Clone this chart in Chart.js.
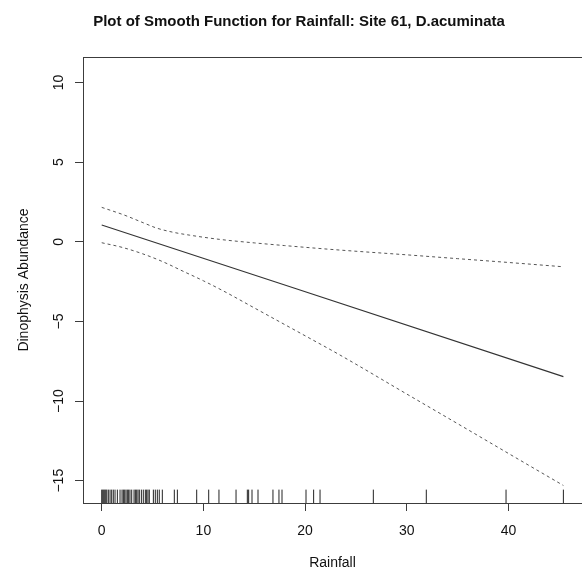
<!DOCTYPE html>
<html>
<head>
<meta charset="utf-8">
<script src="https://cdn.jsdelivr.net/npm/chart.js@4"></script>
<style>
  body { margin: 0; background: #fff; }
  #wrap { width: 582px; height: 575px; }
</style>
</head>
<body>
<div id="wrap"><canvas id="smooth" width="582" height="575"></canvas></div>
<script>
// smooth fit and its confidence band
const fitX = [0, 18.9, 45.4];
const fitY = [1.05, -2.9, -8.47];

const upperX = [0, 2.2, 4.1, 5.4, 7, 8.6, 11.6, 15, 18, 21, 23.4, 30, 35, 40, 45.4];
const upperY = [2.16, 1.68, 1.19, 0.86, 0.6, 0.42, 0.15, -0.07, -0.24, -0.4, -0.52, -0.82, -1.06, -1.3, -1.57];

const lowerX = [0, 2, 4, 6, 8, 10, 12, 15, 17, 20, 23.4, 30, 35, 40, 45.4];
const lowerY = [-0.06, -0.35, -0.75, -1.25, -1.85, -2.45, -3.1, -4.15, -4.85, -5.9, -7.1, -9.56, -11.42, -13.29, -15.3];

// rainfall observations for the rug
const rugX = [0, 0.1, 0.2, 0.3, 0.4, 0.5, 0.65, 0.82, 0.98, 1.14, 1.31, 1.54, 1.8, 2.0, 2.13,
  2.26, 2.39, 2.52, 2.65, 2.78, 2.95, 3.18, 3.31, 3.44, 3.57, 3.7, 3.9, 4.09, 4.29, 4.42,
  4.55, 4.68, 5.08, 5.27, 5.47, 5.66, 5.96, 7.14, 7.44, 9.34, 10.52, 11.53, 13.21, 14.32,
  14.45, 14.78, 15.37, 16.84, 17.43, 17.73, 20.09, 20.84, 21.47, 26.71, 31.92, 39.76, 45.4];

const xTicks = [0, 10, 20, 30, 40];
const yTicks = [-15, -10, -5, 0, 5, 10];
const X_MIN = -1.84, X_MAX = 47.23;
const Y_MIN = -16.4, Y_MAX = 11.6;

const pts = (xs, ys) => xs.map((x, i) => ({x: x, y: ys[i]}));
const minus = v => String(v).replace('-', '\u2212');
const ink = '#3c3c3c';
const font = {family: 'Arial, "Liberation Sans", sans-serif', size: 14};

const ctx = document.getElementById('smooth').getContext('2d');
new Chart(ctx, {
    type: 'line',
    data: {
        datasets: [
            {data: pts(fitX, fitY), borderColor: '#333', borderWidth: 1.2, pointRadius: 0},
            {data: pts(upperX, upperY), borderColor: '#555', borderWidth: 1, borderDash: [3, 3],
             pointRadius: 0, cubicInterpolationMode: 'monotone'},
            {data: pts(lowerX, lowerY), borderColor: '#555', borderWidth: 1, borderDash: [3, 3],
             pointRadius: 0, cubicInterpolationMode: 'monotone'},
            {   // rug: short vertical ticks sitting on the bottom of the plot
                data: rugX.map(x => ({x: x, y: Y_MIN + 0.015 * (Y_MAX - Y_MIN)})),
                showLine: false,
                pointStyle: 'line',
                rotation: 90,
                radius: c => c.chart.chartArea ? c.chart.chartArea.height * 0.015 : 6.5,
                borderColor: '#222',
                borderWidth: 1,
                hoverRadius: 0
            }
        ]
    },
    options: {
        responsive: false,
        animation: false,
        events: [],
        layout: {autoPadding: false, padding: {left: 16, top: 0, right: 0, bottom: 0}},
        plugins: {
            legend: {display: false},
            tooltip: {enabled: false},
            title: {
                display: true,
                text: 'Plot of Smooth Function for Rainfall: Site 61, D.acuminata',
                color: '#111',
                font: {family: font.family, size: 15, weight: 'bold'},
                padding: {top: 12.5, bottom: 26.5}
            }
        },
        scales: {
            x: {
                type: 'linear',
                min: X_MIN,
                max: X_MAX,
                afterBuildTicks: s => { s.ticks = xTicks.map(v => ({value: v})); },
                afterFit: s => { s.height = 72; },
                ticks: {color: '#111', font: font, padding: 12, callback: minus},
                grid: {drawOnChartArea: false, drawTicks: true, tickLength: 8, color: ink},
                border: {display: true, color: ink},
                title: {display: true, text: 'Rainfall', color: '#111', font: font,
                        padding: {top: 0, bottom: 3}}
            },
            xTop: {
                type: 'linear',
                position: 'top',
                min: X_MIN,
                max: X_MAX,
                afterFit: s => { s.height = 0; },
                ticks: {display: false},
                grid: {display: false, drawTicks: false},
                border: {display: true, color: ink}
            },
            y: {
                min: Y_MIN,
                max: Y_MAX,
                afterBuildTicks: s => { s.ticks = yTicks.map(v => ({value: v})); },
                afterFit: s => { s.width = 67; },
                ticks: {color: '#111', font: font, padding: 4, minRotation: 90, maxRotation: 90,
                        crossAlign: 'center', callback: minus},
                grid: {drawOnChartArea: false, drawTicks: true, tickLength: 8, color: ink},
                border: {display: true, color: ink},
                title: {display: true, text: 'Dinophysis Abundance', color: '#111', font: font,
                        padding: {top: 0, bottom: 0}}
            }
        }
    }
});
</script>
</body>
</html>
